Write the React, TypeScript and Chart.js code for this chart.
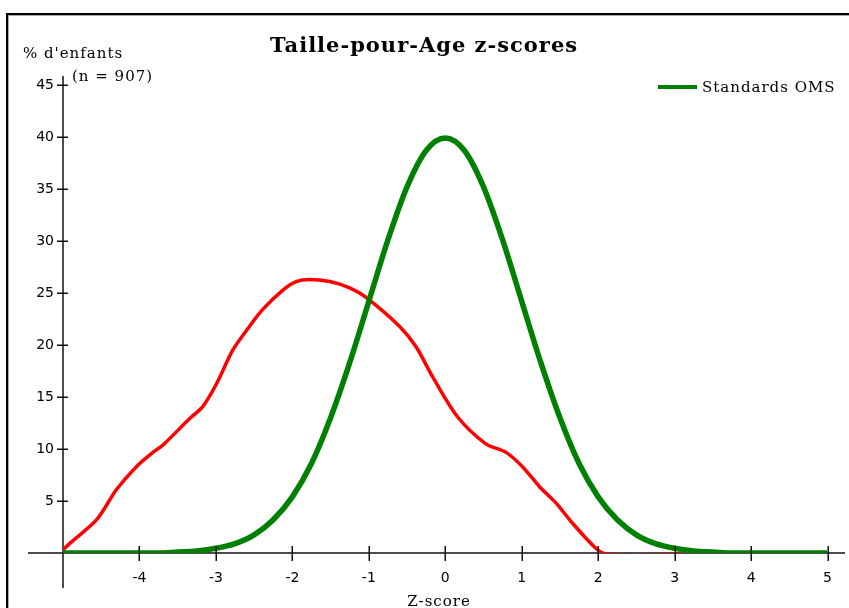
import React, { useEffect, useRef } from "react";
import { Chart, registerables } from "chart.js";

Chart.register(...registerables);

const TITLE = "Taille-pour-Age z-scores";
const Y_TITLE = "% d'enfants";
const SAMPLE_NOTE = "(n = 907)";
const X_TITLE = "Z-score";
const LEGEND_LABEL = "Standards OMS";

const X_TICKS = [-5, -4, -3, -2, -1, 0, 1, 2, 3, 4, 5];
const Y_TICKS = [0, 5, 10, 15, 20, 25, 30, 35, 40, 45];

// WHO standard curve (green)
const whoZ = [-5, -4.75, -4.5, -4.25, -4, -3.75, -3.5, -3.25, -3, -2.75, -2.5, -2.25, -2, -1.75, -1.5, -1.25, -1, -0.75, -0.5, -0.25, 0, 0.25, 0.5, 0.75, 1, 1.25, 1.5, 1.75, 2, 2.25, 2.5, 2.75, 3, 3.25, 3.5, 3.75, 4, 4.25, 4.5, 4.75, 5];
const whoPct = [0, 0, 0, 0, 0, 0, 0.1, 0.2, 0.45, 0.9, 1.75, 3.2, 5.4, 8.6, 13.0, 18.3, 24.2, 30.1, 35.2, 38.7, 39.9, 38.7, 35.2, 30.1, 24.2, 18.3, 13.0, 8.6, 5.4, 3.2, 1.75, 0.9, 0.45, 0.2, 0.1, 0, 0, 0, 0, 0, 0];

// Sample curve (red)
const sampleZ = [-5, -4.9, -4.56, -4.3, -4.04, -3.82, -3.69, -3.34, -3.17, -2.99, -2.78, -2.6, -2.39, -2.12, -1.95, -1.78, -1.51, -1.25, -1.04, -0.6, -0.38, -0.17, 0.16, 0.53, 0.79, 1.01, 1.23, 1.45, 1.66, 1.97, 2.1, 3.28];
const samplePct = [0.3, 1.0, 3.2, 6.1, 8.3, 9.7, 10.4, 12.95, 14.1, 16.3, 19.5, 21.4, 23.4, 25.3, 26.1, 26.3, 26.1, 25.5, 24.6, 21.8, 19.8, 17.0, 13.1, 10.5, 9.7, 8.3, 6.4, 4.8, 2.9, 0.45, -0.1, -0.1];

const GREEN = "rgb(0,128,0)";
const RED = "rgb(255,0,0)";
const SERIF = "'DejaVu Serif', 'Liberation Serif', serif";
const SANS = "'DejaVu Sans', 'Liberation Sans', sans-serif";

const decorPlugin = {
  id: "decor",
  beforeDatasetsDraw(chart: any) {
    const { ctx, scales } = chart;
    const xs = scales.x;
    const ys = scales.y;
    const ax = xs.getPixelForValue(X_TICKS[0]);
    const ay = ys.getPixelForValue(0);
    const top = ys.getPixelForValue(Y_TICKS[Y_TICKS.length - 1]);
    ctx.save();
    // frame
    ctx.fillStyle = "#000";
    ctx.fillRect(6, 13, chart.width - 6, 2);
    ctx.fillRect(6, 13, 2, chart.height - 13);
    ctx.fillStyle = "#a8a8a8";
    ctx.fillRect(8, 15, chart.width - 8, 1);
    ctx.fillRect(8, 15, 1, chart.height - 15);
    // axes
    ctx.strokeStyle = "#111";
    ctx.lineWidth = 1.5;
    ctx.beginPath();
    ctx.moveTo(28, ay);
    ctx.lineTo(chart.width - 4, ay);
    ctx.moveTo(ax, top - 9);
    ctx.lineTo(ax, ay + 35);
    ctx.stroke();
    ctx.restore();
  },
  afterDatasetsDraw(chart: any) {
    const { ctx, scales } = chart;
    const xs = scales.x;
    const ys = scales.y;
    const ax = xs.getPixelForValue(X_TICKS[0]);
    const ay = ys.getPixelForValue(0);
    ctx.save();
    ctx.strokeStyle = "#111";
    ctx.lineWidth = 1.5;
    ctx.beginPath();
    for (const v of X_TICKS) {
      if (v === X_TICKS[0]) continue;
      const px = Math.round(xs.getPixelForValue(v)) + 0.25;
      ctx.moveTo(px, ay - 7);
      ctx.lineTo(px, ay + 8);
    }
    for (const v of Y_TICKS) {
      if (v === 0) continue;
      const py = Math.round(ys.getPixelForValue(v)) + 0.25;
      ctx.moveTo(ax - 6, py);
      ctx.lineTo(ax + 5, py);
    }
    ctx.stroke();

    // texts
    ctx.fillStyle = "#000";
    ctx.textBaseline = "alphabetic";
    ctx.textAlign = "center";
    ctx.font = `bold 21px ${SERIF}`;
    (ctx as any).letterSpacing = "1px";
    ctx.fillText(TITLE, 424, 52);

    ctx.textAlign = "left";
    ctx.font = `15px ${SERIF}`;
    (ctx as any).letterSpacing = "1px";
    ctx.fillText(Y_TITLE, 23, 58);
    ctx.fillText(SAMPLE_NOTE, 72, 81);

    // legend
    ctx.fillStyle = GREEN;
    ctx.fillRect(658, 85, 39, 4);
    ctx.fillStyle = "#000";
    ctx.fillText(LEGEND_LABEL, 702, 92);

    ctx.textAlign = "center";
    ctx.fillText(X_TITLE, 439, 606);
    (ctx as any).letterSpacing = "0px";
    ctx.restore();
  },
};

export default function App() {
  const ref = useRef<HTMLCanvasElement | null>(null);
  useEffect(() => {
    document.body.style.margin = "0";
    const canvas = ref.current;
    if (!canvas) return;
    const chart = new Chart(canvas, {
      type: "line",
      data: {
        datasets: [
          {
            label: LEGEND_LABEL,
            data: whoZ.map((z, i) => ({ x: z, y: whoPct[i] })),
            borderColor: GREEN,
            borderWidth: 5.5,
            pointRadius: 0,
            cubicInterpolationMode: "monotone",
            fill: false,
          },
          {
            label: "Echantillon",
            data: sampleZ.map((z, i) => ({ x: z, y: samplePct[i] })),
            borderColor: RED,
            borderWidth: 3.5,
            pointRadius: 0,
            tension: 0.3,
            fill: false,
          },
        ],
      },
      options: {
        responsive: false,
        animation: false,
        events: [],
        layout: { padding: { left: 0, right: 20, top: 85, bottom: 0 } },
        plugins: {
          legend: { display: false },
          title: { display: false },
          tooltip: { enabled: false },
        },
        scales: {
          x: {
            type: "linear",
            min: -5,
            max: 5,
            grid: { display: false, drawTicks: false },
            border: { display: false },
            afterFit: (s: any) => {
              s.height = 55;
            },
            ticks: {
              stepSize: 1,
              autoSkip: false,
              maxRotation: 0,
              padding: 17,
              color: "#000",
              font: { family: SANS, size: 14 },
              callback: (v: any) => (v === -5 ? null : String(v)),
            },
          },
          y: {
            type: "linear",
            min: 0,
            max: 45,
            grid: { display: false, drawTicks: false },
            border: { display: false },
            afterFit: (s: any) => {
              s.width = 63;
            },
            ticks: {
              stepSize: 5,
              padding: 9,
              color: "#000",
              font: { family: SANS, size: 14 },
              callback: (v: any) => (v === 0 ? null : String(v)),
            },
          },
        },
      },
      plugins: [decorPlugin],
    } as any);
    return () => chart.destroy();
  }, []);
  return (
    <div style={{ width: 849, height: 608, background: "#fff", position: "relative" }}>
      <canvas ref={ref} width={849} height={608} style={{ width: 849, height: 608, display: "block" }} />
    </div>
  );
}
